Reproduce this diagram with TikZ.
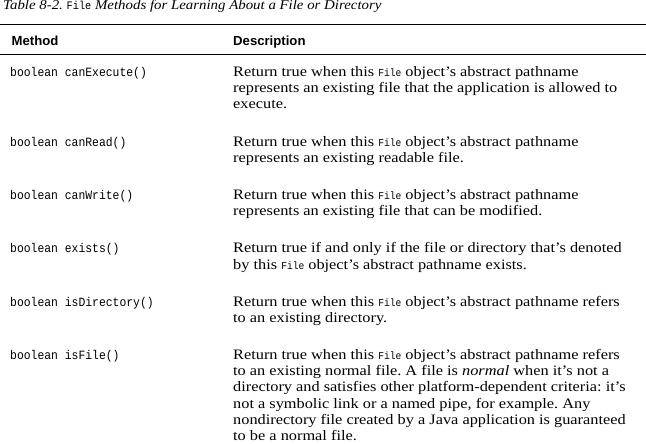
\documentclass[tikz,border=0pt]{standalone}
\usepackage{fontspec}
\setmainfont{Liberation Serif}
\newfontfamily\descfam{Liberation Serif}[FakeStretch=1.13]
\newfontfamily\captfam{Liberation Serif}[FakeStretch=1.105]
\newfontfamily\codefam{Liberation Mono}[FakeStretch=0.9]
\newfontfamily\headfam{Liberation Sans}
\frenchspacing
\newcommand{\fl}{{\codefam\fontsize{10.7}{12}\selectfont File}}
\tikzset{
  desc/.style={anchor=base west, inner sep=0pt, font=\descfam\fontsize{14.5}{16}\selectfont},
  meth/.style={anchor=base west, inner sep=0pt, font=\codefam\fontsize{12.7}{14}\selectfont},
  head/.style={anchor=base west, inner sep=0pt, font=\headfam\bfseries\fontsize{13.2}{15}\selectfont},
  capt/.style={anchor=base west, inner sep=0pt, font=\captfam\itshape\fontsize{13.5}{15}\selectfont},
  rule/.style={line width=1.2bp, black}
}
\begin{document}
\begin{tikzpicture}[x=1bp,y=-1bp]
\useasboundingbox (0,0) rectangle (646,444);
\node[capt] (cap) at (3,10) {Table 8-2. {\upshape\codefam\fontsize{11.5}{12}\selectfont File} Methods for Learning About a File or Directory};
\coordinate (r1a) at (0,24.4); \coordinate (r1b) at (646,24.4);
\coordinate (r2a) at (0,54.2); \coordinate (r2b) at (646,54.2);
\draw[rule] (r1a) -- (r1b);
\draw[rule] (r2a) -- (r2b);
\node[head] (hm) at (11.5,46) {Method};
\node[head] (hd) at (233,46) {Description};
% row 1
\node[meth] (m1) at (10,76.6) {boolean canExecute()};
\node[desc] (d1a) at (233,76.6) {Return true when this \fl{} object’s abstract pathname};
\node[desc] (d1b) at (233,92.8) {represents an existing file that the application is allowed to};
\node[desc] (d1c) at (233,109.0) {execute.};
% row 2
\node[meth] (m2) at (10,146.4) {boolean canRead()};
\node[desc] (d2a) at (233,146.4) {Return true when this \fl{} object’s abstract pathname};
\node[desc] (d2b) at (233,162.5) {represents an existing readable file.};
% row 3
\node[meth] (m3) at (10,199.7) {boolean canWrite()};
\node[desc] (d3a) at (233,199.7) {Return true when this \fl{} object’s abstract pathname};
\node[desc] (d3b) at (233,215.8) {represents an existing file that can be modified.};
% row 4
\node[meth] (m4) at (10,253.0) {boolean exists()};
\node[desc] (d4a) at (233,253.0) {Return true if and only if the file or directory that’s denoted};
\node[desc] (d4b) at (233,269.1) {by this \fl{} object’s abstract pathname exists.};
% row 5
\node[meth] (m5) at (10,306.4) {boolean isDirectory()};
\node[desc] (d5a) at (233,306.4) {Return true when this \fl{} object’s abstract pathname refers};
\node[desc] (d5b) at (233,322.5) {to an existing directory.};
% row 6
\node[meth] (m6) at (10,359.7) {boolean isFile()};
\node[desc] (d6a) at (233,359.7) {Return true when this \fl{} object’s abstract pathname refers};
\node[desc] (d6b) at (233,375.8) {to an existing normal file. A file is {\itshape normal} when it’s not a};
\node[desc] (d6c) at (233,391.9) {directory and satisfies other platform-dependent criteria: it’s};
\node[desc] (d6d) at (233,408.0) {not a symbolic link or a named pipe, for example. Any};
\node[desc] (d6e) at (233,424.1) {nondirectory file created by a Java application is guaranteed};
\node[desc] (d6f) at (233,440.2) {to be a normal file.};
\end{tikzpicture}
\end{document}
